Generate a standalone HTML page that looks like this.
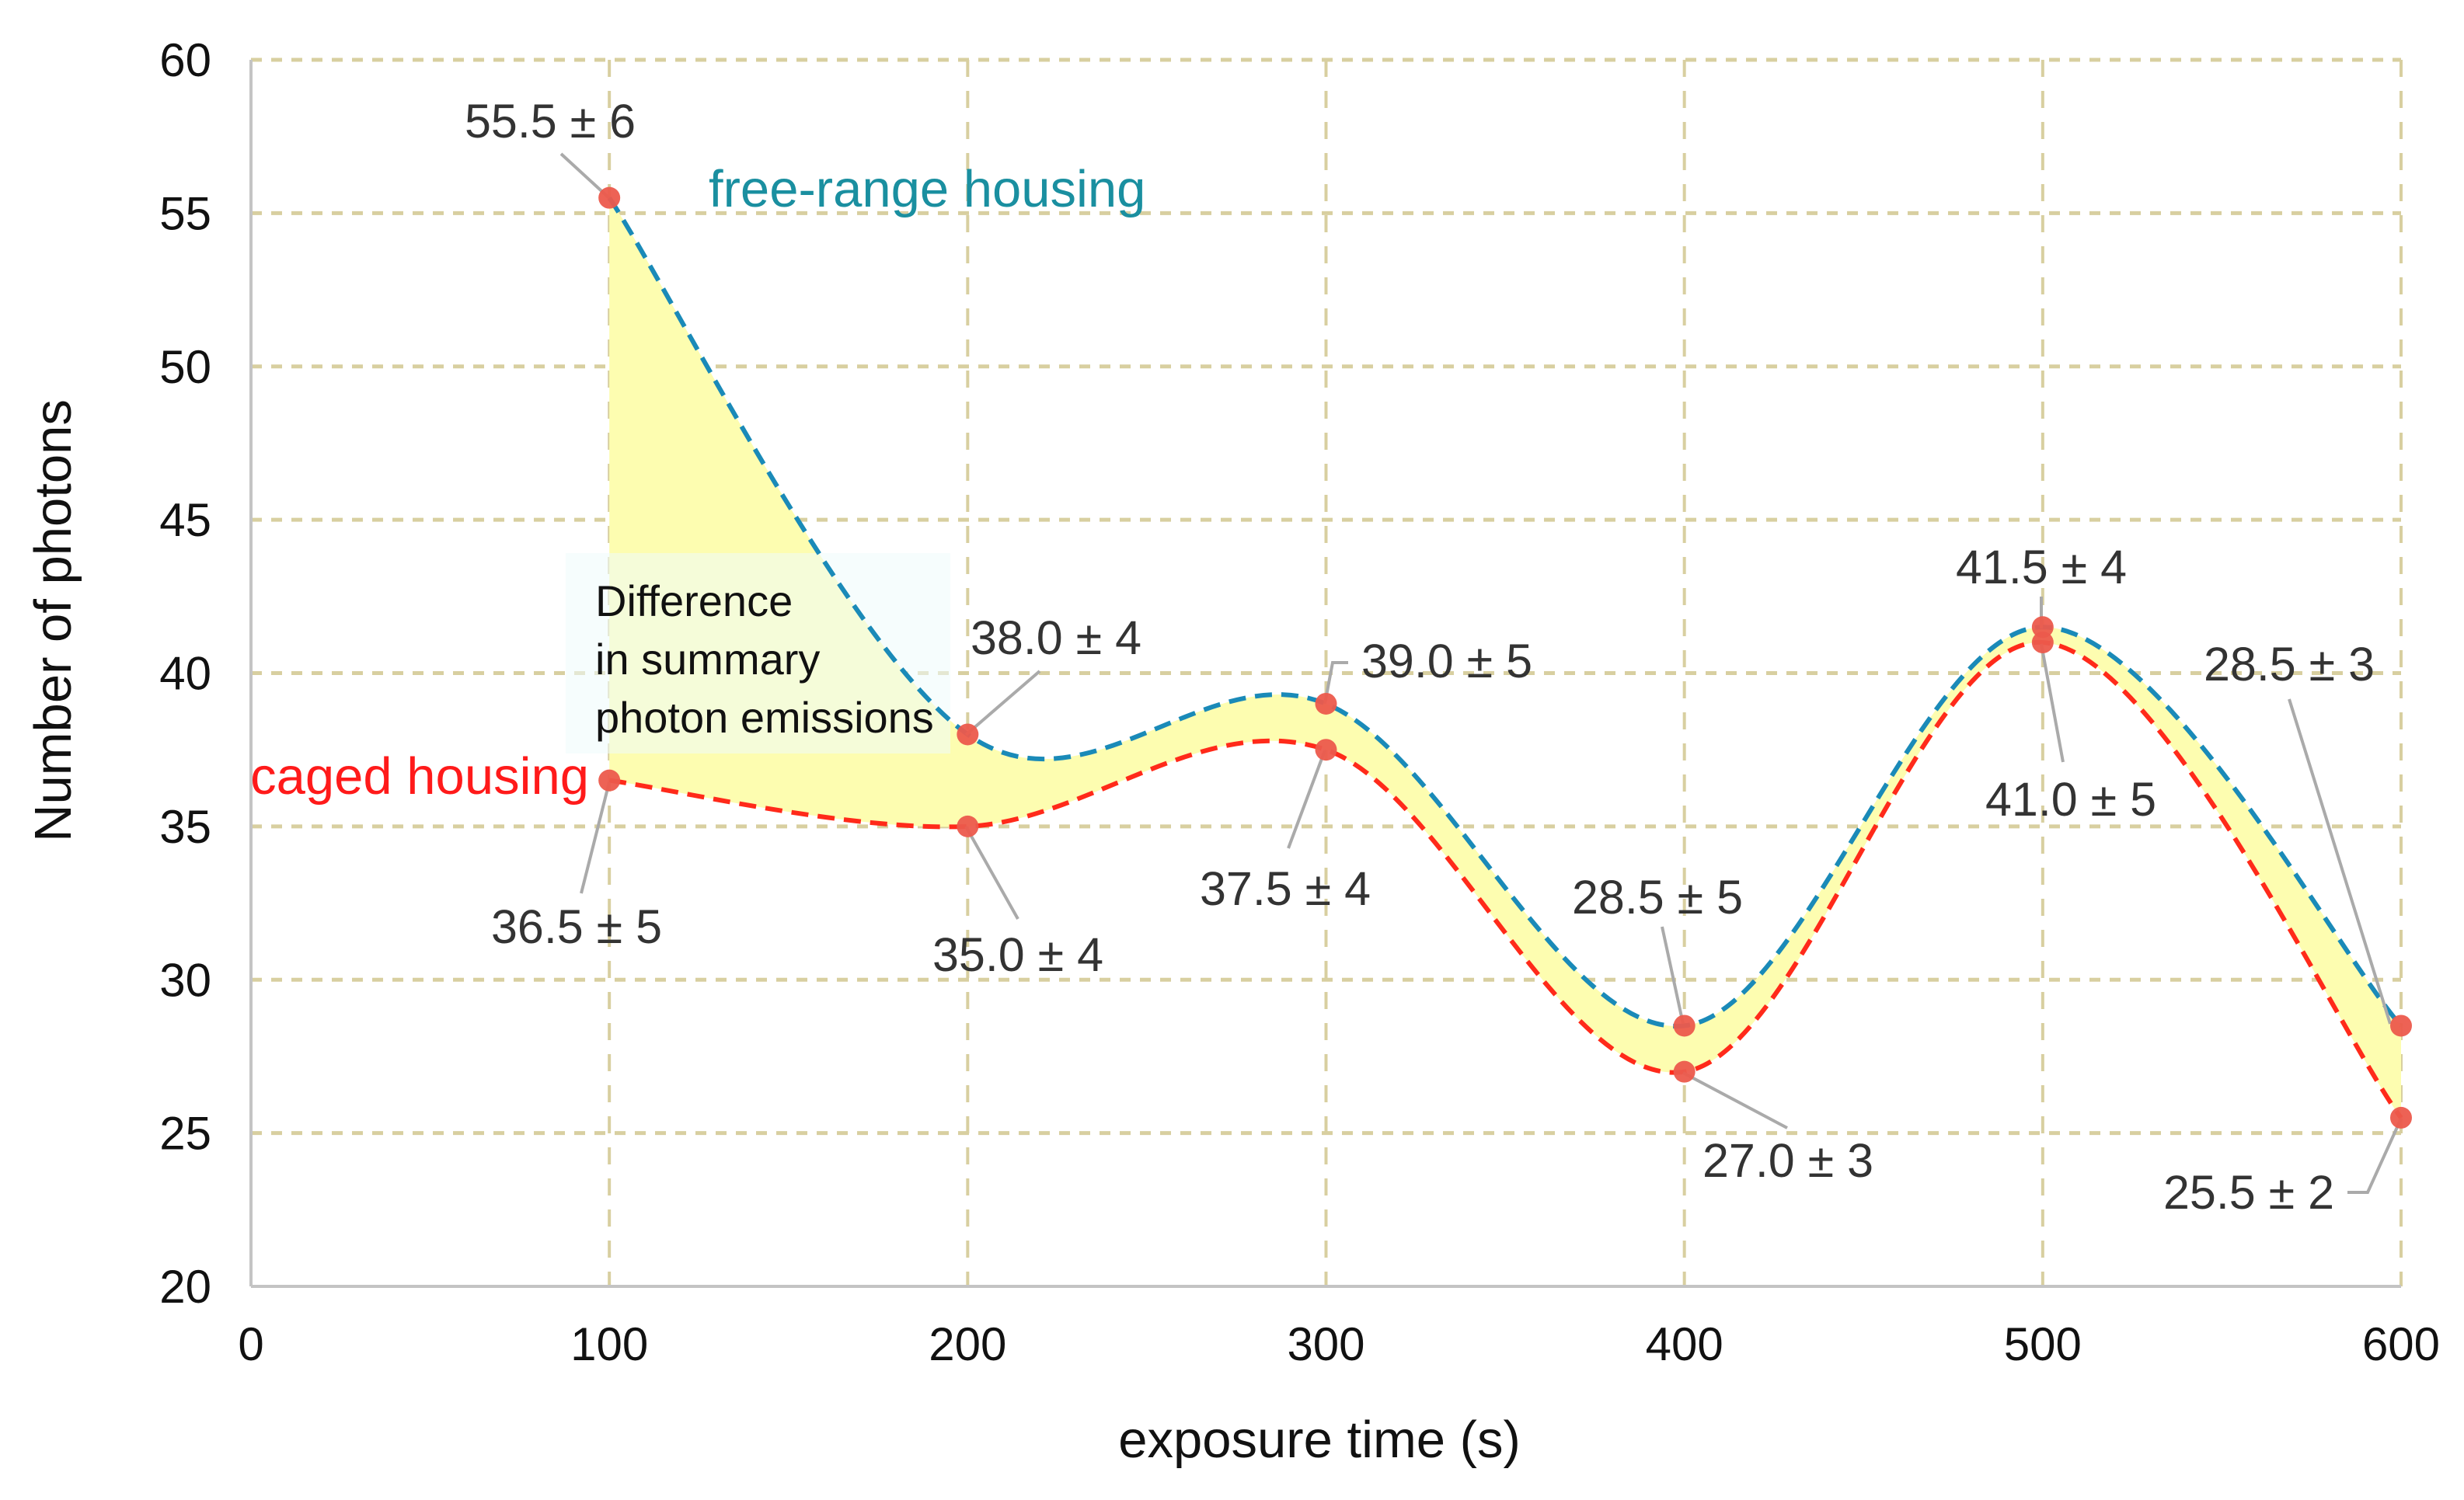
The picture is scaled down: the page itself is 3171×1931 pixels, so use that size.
<!DOCTYPE html>
<html><head><meta charset="utf-8"><style>
html,body{margin:0;padding:0;background:#fff;}
svg{display:block;font-family:"Liberation Sans",Arial,sans-serif;}
</style></head><body>
<svg id="chart" width="3171" height="1931" viewBox="0 0 3171 1931" xmlns="http://www.w3.org/2000/svg">
<g id="grid"></g>
<path id="fillArea" fill="#fdfdb0" stroke="none"/>
<rect x="728" y="712" width="495" height="258" fill="#eefbfb" opacity="0.55"/>
<text font-size="56" fill="#111">
<tspan x="766" y="793">Difference</tspan><tspan x="766" y="868">in summary</tspan><tspan x="766" y="943">photon emissions</tspan></text>
<g id="axes"></g>
<path id="freeLine" fill="none" stroke="#1a8ab8" stroke-width="6" stroke-dasharray="22 12"/>
<path id="cagedLine" fill="none" stroke="#ff2a1a" stroke-width="6" stroke-dasharray="22 12"/>
<g id="leaders" stroke="#aaa" stroke-width="4" fill="none">
<polyline points="722,198 784,255"/>
<polyline points="784,1007 748,1150"/>
<polyline points="1243,946 1338,864"/>
<polyline points="1243,1064 1310,1183"/>
<polyline points="1705,906 1715,853 1735,853"/>
<polyline points="1705,966 1658,1092"/>
<polyline points="2139,1193 2166,1318"/>
<polyline points="2166,1381 2300,1452"/>
<polyline points="2627,768 2627,809"/>
<polyline points="2627,829 2655,981"/>
<polyline points="2946,900 3076,1318"/>
<polyline points="3021,1535 3047,1535 3090,1440"/>
</g>
<g id="markers"></g>
<g font-size="61" fill="#333" text-anchor="middle">
<text x="708" y="177">55.5 ± 6</text>
<text x="742" y="1214">36.5 ± 5</text>
<text x="1359" y="842">38.0 ± 4</text>
<text x="1310" y="1250">35.0 ± 4</text>
<text x="1862" y="872">39.0 ± 5</text>
<text x="1654" y="1165">37.5 ± 4</text>
<text x="2133" y="1176">28.5 ± 5</text>
<text x="2301" y="1515">27.0 ± 3</text>
<text x="2627" y="751">41.5 ± 4</text>
<text x="2665" y="1050">41.0 ± 5</text>
<text x="2946" y="876">28.5 ± 3</text>
<text x="2894" y="1556">25.5 ± 2</text>
</g>
<text x="912" y="266" font-size="67" fill="#1a8fa0">free-range housing</text>
<text x="758" y="1022" font-size="67" fill="#ff1a1a" text-anchor="end">caged housing</text>
<text x="1698" y="1876" font-size="67" fill="#111" text-anchor="middle">exposure time (s)</text>
<text transform="translate(91,799) rotate(-90)" font-size="67" fill="#111" text-anchor="middle">Number of photons</text>
</svg>
<script>
const xCats=[100,200,300,400,500,600];
const freeVals=[55.5,38.0,39.0,28.5,41.5,28.5];
const cagedVals=[36.5,35.0,37.5,27.0,41.0,25.5];
const xTicks=[0,100,200,300,400,500,600];
const yTicks=[20,25,30,35,40,45,50,55,60];
const NS="http://www.w3.org/2000/svg";
function xs(v){return 323+v*(3090-323)/600;}
function ys(v){return 1656-(v-20)*(1656-77)/40;}
function mk(tag,attrs,parent){const e=document.createElementNS(NS,tag);for(const k in attrs)e.setAttribute(k,attrs[k]);parent.appendChild(e);return e;}
function pts(vals){return xCats.map((c,i)=>[xs(c),ys(vals[i])]);}
function smooth(p){let d="";const t=1/6;
 for(let i=0;i<p.length-1;i++){const p0=p[Math.max(i-1,0)],p1=p[i],p2=p[i+1],p3=p[Math.min(i+2,p.length-1)];
  const c1=[p1[0]+(p2[0]-p0[0])*t,p1[1]+(p2[1]-p0[1])*t],c2=[p2[0]-(p3[0]-p1[0])*t,p2[1]-(p3[1]-p1[1])*t];
  d+=(i==0?"M"+p1[0]+","+p1[1]:"")+" C"+c1[0]+","+c1[1]+" "+c2[0]+","+c2[1]+" "+p2[0]+","+p2[1];}
 return d;}
function smoothRev(p){return smooth(p.slice().reverse());}
const grid=document.getElementById('grid');
yTicks.forEach(v=>{
 if(v>20){const l=mk('line',{x1:xs(0),x2:xs(600),y1:ys(v),y2:ys(v),stroke:'#d8cfa0','stroke-width':5,'stroke-dasharray':'14 12'},grid);
 
 }
 const t=mk('text',{x:272,y:ys(v)+21,'font-size':60,'text-anchor':'end',fill:'#111'},grid);t.textContent=v;
 
 
});
xTicks.forEach(v=>{
 if(v>0){const l=mk('line',{x1:xs(v),x2:xs(v),y1:ys(60),y2:ys(20),stroke:'#d8cfa0','stroke-width':4,'stroke-dasharray':'22 18'},grid);
 
 }
 const t=mk('text',{x:xs(v),y:1751,'font-size':60,'text-anchor':'middle',fill:'#111'},grid);t.textContent=v;
 
 
});
const axes=document.getElementById('axes');
const ax1=mk('line',{x1:xs(0),x2:xs(0),y1:ys(60),y2:ys(20),stroke:'#c4c4c4','stroke-width':4},axes);


const ax2=mk('line',{x1:xs(0),x2:xs(600),y1:ys(20),y2:ys(20),stroke:'#c4c4c4','stroke-width':4},axes);


const fp=pts(freeVals),cp=pts(cagedVals);
document.getElementById('freeLine').setAttribute('d',smooth(fp));
document.getElementById('cagedLine').setAttribute('d',smooth(cp));
const rev=smoothRev(cp).replace(/^M/,' L');
document.getElementById('fillArea').setAttribute('d',smooth(fp)+rev+' Z');
const mg=document.getElementById('markers');
[fp,cp].forEach((arr,si)=>arr.forEach(p=>{
 const c=mk('circle',{cx:p[0],cy:p[1],r:14,fill:'#ec5a4c',opacity:0.95},mg);
 
 
}));
</script>
</body></html>
